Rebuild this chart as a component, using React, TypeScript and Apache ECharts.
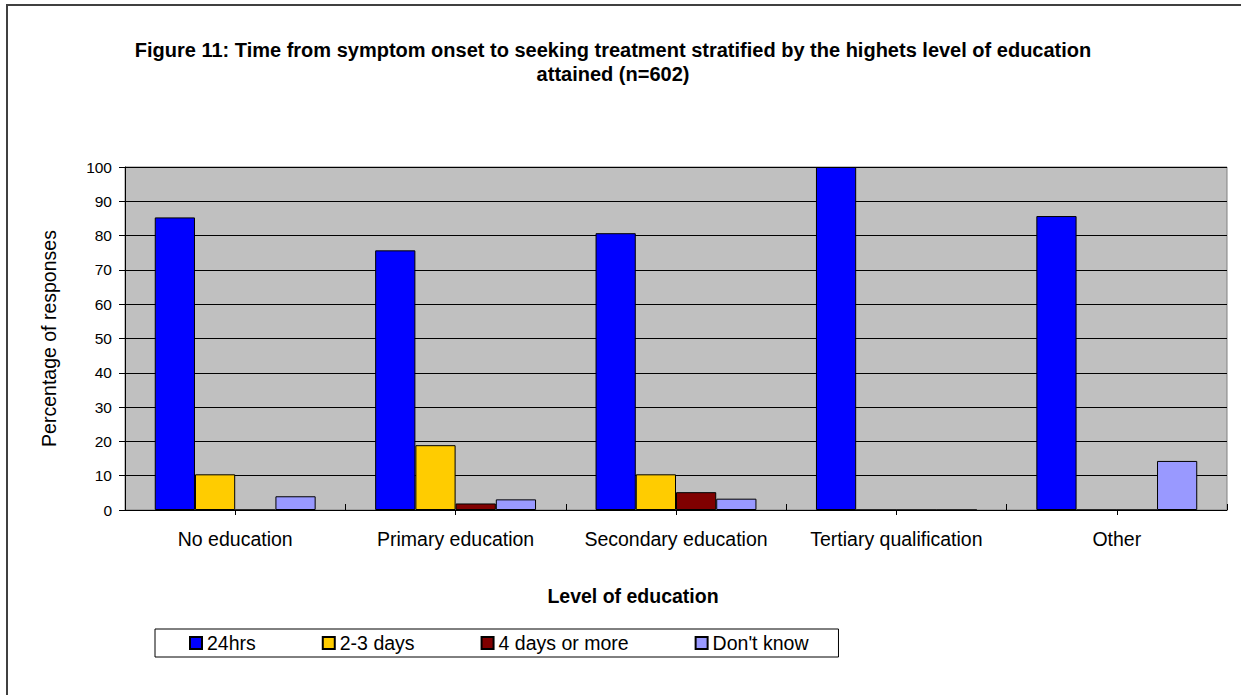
import React, { useEffect, useRef } from "react";
import * as echarts from "echarts";

const categories = [
  "No education",
  "Primary education",
  "Secondary education",
  "Tertiary qualification",
  "Other",
];
const seriesNames = ["24hrs", "2-3 days", "4 days or more", "Don't know"];
const hrs24 = [85.3, 75.7, 80.7, 100, 85.7];
const days2to3 = [10.4, 18.9, 10.4, 0, 0];
const days4plus = [0, 1.9, 5.2, 0, 0];
const dontKnow = [4.0, 3.1, 3.3, 0, 14.3];
const yTicks = [0, 10, 20, 30, 40, 50, 60, 70, 80, 90, 100];

const colors = ["#0000FF", "#FFCC00", "#800000", "#9999FF"];
const FONT = "Liberation Sans, Arial, sans-serif";
const BIG = 19.5;

export default function App() {
  const ref = useRef<HTMLDivElement>(null);
  useEffect(() => {
    document.body.style.margin = "0";
    const chart = echarts.init(ref.current!, null, { renderer: "svg" });
    const values = [hrs24, days2to3, days4plus, dontKnow];
    chart.setOption({
      animation: false,
      backgroundColor: "#ffffff",
      textStyle: { fontFamily: FONT },
      title: {
        text: "Figure 11: Time from symptom onset to seeking treatment stratified by the highets level of education\nattained (n=602)",
        left: 608,
        top: 33,
        textAlign: "center",
        textStyle: {
          fontFamily: FONT,
          fontSize: 20,
          fontWeight: "bold",
          color: "#000",
          lineHeight: 24,
        },
      },
      grid: {
        left: 125,
        top: 167,
        right: 14,
        bottom: 185,
        show: true,
        backgroundColor: "#C0C0C0",
        borderColor: "#808080",
        borderWidth: 1,
      },
      legend: {
        data: seriesNames,
        left: 155,
        top: 629,
        orient: "horizontal",
        icon: "rect",
        itemWidth: 12,
        itemHeight: 12,
        itemGap: 66,
        padding: [4, 30, 4, 34],
        backgroundColor: "#ffffff",
        borderColor: "#000000",
        borderWidth: 1,
        borderRadius: 0,
        textStyle: { fontFamily: FONT, fontSize: BIG, color: "#000" },
      },
      xAxis: [
        {
          type: "category",
          data: categories,
          axisLine: { show: true, lineStyle: { color: "#000", width: 1 } },
          axisTick: {
            show: true,
            alignWithLabel: true,
            length: 5,
            lineStyle: { color: "#000" },
          },
          axisLabel: {
            fontFamily: FONT,
            fontSize: BIG,
            color: "#000",
            margin: 19,
            interval: 0,
          },
          splitLine: { show: false },
        },
        {
          type: "category",
          data: categories,
          position: "bottom",
          axisLine: { show: false },
          axisTick: {
            show: true,
            inside: true,
            length: 6,
            lineStyle: { color: "#000" },
          },
          axisLabel: { show: false },
          splitLine: { show: false },
        },
      ],
      yAxis: {
        type: "value",
        min: yTicks[0],
        max: yTicks[yTicks.length - 1],
        interval: 10,
        name: "Percentage of responses",
        nameLocation: "middle",
        nameGap: 66,
        nameTextStyle: { fontFamily: FONT, fontSize: BIG, color: "#000" },
        axisLine: { show: true, lineStyle: { color: "#000", width: 1 } },
        axisTick: { show: true, length: 6, lineStyle: { color: "#000" } },
        axisLabel: {
          fontFamily: FONT,
          fontSize: 15.5,
          color: "#000",
          margin: 13,
        },
        splitLine: { show: true, lineStyle: { color: "#000", width: 1 } },
      },
      graphic: [
        {
          type: "rect",
          shape: { x: 7, y: 5, width: 1400, height: 900 },
          style: { fill: "none", stroke: "#404040", lineWidth: 2 },
          z: -10,
          silent: true,
        },
        {
          type: "text",
          x: 633,
          y: 596,
          style: {
            text: "Level of education",
            fontFamily: FONT,
            fontSize: BIG,
            fontWeight: "bold",
            fill: "#000",
            textAlign: "center",
            textVerticalAlign: "middle",
          },
        },
      ],
      series: seriesNames.map((name, i) => ({
        name,
        type: "bar",
        xAxisIndex: 0,
        data: values[i],
        barGap: "0%",
        barCategoryGap: "27%",
        itemStyle: { color: colors[i], borderColor: "#000", borderWidth: 1 },
      })),
    });
    return () => chart.dispose();
  }, []);
  return <div ref={ref} style={{ width: 1241, height: 695 }} />;
}
